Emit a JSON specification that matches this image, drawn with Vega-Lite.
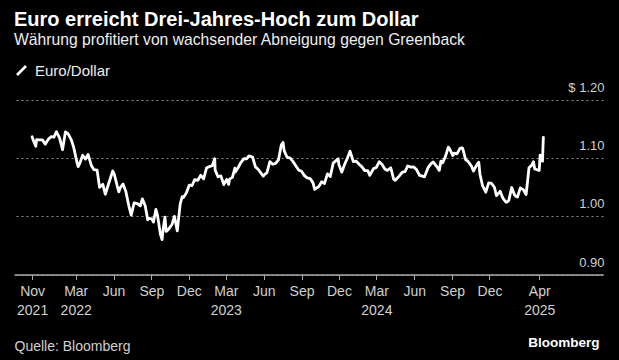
{
  "$schema": "https://vega.github.io/schema/vega-lite/v6.json",
  "width": 589,
  "height": 174.5,
  "autosize": {"type": "none"},
  "padding": {"left": 14, "top": 100, "right": 16, "bottom": 85.5},
  "background": "#000000",
  "title": {
    "text": "Euro erreicht Drei-Jahres-Hoch zum Dollar",
    "subtitle": "Währung profitiert von wachsender Abneigung gegen Greenback",
    "anchor": "start",
    "frame": "group",
    "font": "Liberation Sans",
    "fontSize": 20,
    "fontWeight": "bold",
    "color": "#ffffff",
    "subtitleFont": "Liberation Sans",
    "subtitleFontSize": 15.7,
    "subtitleColor": "#eeeeee",
    "subtitlePadding": 3,
    "offset": 15
  },
  "data": {
    "values": [
      {"date": "2021-11-15", "eurusd": 1.1368},
      {"date": "2021-11-19", "eurusd": 1.1287},
      {"date": "2021-11-24", "eurusd": 1.1205},
      {"date": "2021-11-26", "eurusd": 1.1318},
      {"date": "2021-12-03", "eurusd": 1.1315},
      {"date": "2021-12-10", "eurusd": 1.1316},
      {"date": "2021-12-15", "eurusd": 1.1260},
      {"date": "2021-12-17", "eurusd": 1.1240},
      {"date": "2021-12-24", "eurusd": 1.1320},
      {"date": "2021-12-31", "eurusd": 1.1370},
      {"date": "2022-01-07", "eurusd": 1.1360},
      {"date": "2022-01-13", "eurusd": 1.1455},
      {"date": "2022-01-21", "eurusd": 1.1345},
      {"date": "2022-01-28", "eurusd": 1.1145},
      {"date": "2022-02-04", "eurusd": 1.1450},
      {"date": "2022-02-10", "eurusd": 1.1425},
      {"date": "2022-02-18", "eurusd": 1.1320},
      {"date": "2022-02-24", "eurusd": 1.1190},
      {"date": "2022-03-04", "eurusd": 1.0930},
      {"date": "2022-03-07", "eurusd": 1.0855},
      {"date": "2022-03-11", "eurusd": 1.0910},
      {"date": "2022-03-18", "eurusd": 1.1050},
      {"date": "2022-03-25", "eurusd": 1.0985},
      {"date": "2022-03-31", "eurusd": 1.1065},
      {"date": "2022-04-08", "eurusd": 1.0875},
      {"date": "2022-04-14", "eurusd": 1.0805},
      {"date": "2022-04-22", "eurusd": 1.0795},
      {"date": "2022-04-28", "eurusd": 1.0500},
      {"date": "2022-05-06", "eurusd": 1.0550},
      {"date": "2022-05-12", "eurusd": 1.0380},
      {"date": "2022-05-20", "eurusd": 1.0560},
      {"date": "2022-05-30", "eurusd": 1.0780},
      {"date": "2022-06-03", "eurusd": 1.0720},
      {"date": "2022-06-10", "eurusd": 1.0520},
      {"date": "2022-06-14", "eurusd": 1.0420},
      {"date": "2022-06-17", "eurusd": 1.0490},
      {"date": "2022-06-24", "eurusd": 1.0555},
      {"date": "2022-07-01", "eurusd": 1.0425},
      {"date": "2022-07-08", "eurusd": 1.0185},
      {"date": "2022-07-14", "eurusd": 1.0020},
      {"date": "2022-07-21", "eurusd": 1.0230},
      {"date": "2022-07-29", "eurusd": 1.0220},
      {"date": "2022-08-05", "eurusd": 1.0180},
      {"date": "2022-08-10", "eurusd": 1.0300},
      {"date": "2022-08-17", "eurusd": 1.0180},
      {"date": "2022-08-23", "eurusd": 0.9940},
      {"date": "2022-08-26", "eurusd": 0.9965},
      {"date": "2022-09-02", "eurusd": 0.9955},
      {"date": "2022-09-06", "eurusd": 0.9900},
      {"date": "2022-09-12", "eurusd": 1.0120},
      {"date": "2022-09-16", "eurusd": 1.0015},
      {"date": "2022-09-23", "eurusd": 0.9690},
      {"date": "2022-09-27", "eurusd": 0.9600},
      {"date": "2022-09-30", "eurusd": 0.9800},
      {"date": "2022-10-04", "eurusd": 0.9985},
      {"date": "2022-10-07", "eurusd": 0.9740},
      {"date": "2022-10-13", "eurusd": 0.9780},
      {"date": "2022-10-21", "eurusd": 0.9860},
      {"date": "2022-10-27", "eurusd": 1.0000},
      {"date": "2022-11-03", "eurusd": 0.9750},
      {"date": "2022-11-10", "eurusd": 1.0210},
      {"date": "2022-11-15", "eurusd": 1.0340},
      {"date": "2022-11-18", "eurusd": 1.0325},
      {"date": "2022-11-25", "eurusd": 1.0400},
      {"date": "2022-12-02", "eurusd": 1.0535},
      {"date": "2022-12-09", "eurusd": 1.0530},
      {"date": "2022-12-15", "eurusd": 1.0630},
      {"date": "2022-12-23", "eurusd": 1.0620},
      {"date": "2022-12-30", "eurusd": 1.0705},
      {"date": "2023-01-06", "eurusd": 1.0645},
      {"date": "2023-01-13", "eurusd": 1.0830},
      {"date": "2023-01-20", "eurusd": 1.0855},
      {"date": "2023-01-27", "eurusd": 1.0870},
      {"date": "2023-02-02", "eurusd": 1.0990},
      {"date": "2023-02-03", "eurusd": 1.0795},
      {"date": "2023-02-10", "eurusd": 1.0680},
      {"date": "2023-02-17", "eurusd": 1.0695},
      {"date": "2023-02-24", "eurusd": 1.0545},
      {"date": "2023-03-03", "eurusd": 1.0635},
      {"date": "2023-03-08", "eurusd": 1.0550},
      {"date": "2023-03-10", "eurusd": 1.0640},
      {"date": "2023-03-17", "eurusd": 1.0670},
      {"date": "2023-03-23", "eurusd": 1.0830},
      {"date": "2023-03-24", "eurusd": 1.0760},
      {"date": "2023-03-31", "eurusd": 1.0840},
      {"date": "2023-04-06", "eurusd": 1.0920},
      {"date": "2023-04-14", "eurusd": 1.0990},
      {"date": "2023-04-21", "eurusd": 1.0990},
      {"date": "2023-04-26", "eurusd": 1.1040},
      {"date": "2023-05-05", "eurusd": 1.1020},
      {"date": "2023-05-12", "eurusd": 1.0850},
      {"date": "2023-05-19", "eurusd": 1.0805},
      {"date": "2023-05-31", "eurusd": 1.0690},
      {"date": "2023-06-02", "eurusd": 1.0710},
      {"date": "2023-06-09", "eurusd": 1.0750},
      {"date": "2023-06-16", "eurusd": 1.0940},
      {"date": "2023-06-23", "eurusd": 1.0895},
      {"date": "2023-06-30", "eurusd": 1.0910},
      {"date": "2023-07-07", "eurusd": 1.0970},
      {"date": "2023-07-14", "eurusd": 1.1230},
      {"date": "2023-07-18", "eurusd": 1.1270},
      {"date": "2023-07-21", "eurusd": 1.1125},
      {"date": "2023-07-28", "eurusd": 1.1015},
      {"date": "2023-08-04", "eurusd": 1.1005},
      {"date": "2023-08-11", "eurusd": 1.0945},
      {"date": "2023-08-18", "eurusd": 1.0870},
      {"date": "2023-08-25", "eurusd": 1.0795},
      {"date": "2023-09-01", "eurusd": 1.0775},
      {"date": "2023-09-08", "eurusd": 1.0700},
      {"date": "2023-09-15", "eurusd": 1.0660},
      {"date": "2023-09-22", "eurusd": 1.0650},
      {"date": "2023-09-29", "eurusd": 1.0575},
      {"date": "2023-10-03", "eurusd": 1.0465},
      {"date": "2023-10-13", "eurusd": 1.0510},
      {"date": "2023-10-20", "eurusd": 1.0595},
      {"date": "2023-10-27", "eurusd": 1.0565},
      {"date": "2023-11-03", "eurusd": 1.0730},
      {"date": "2023-11-10", "eurusd": 1.0685},
      {"date": "2023-11-17", "eurusd": 1.0915},
      {"date": "2023-11-29", "eurusd": 1.0990},
      {"date": "2023-12-01", "eurusd": 1.0885},
      {"date": "2023-12-08", "eurusd": 1.0760},
      {"date": "2023-12-15", "eurusd": 1.0895},
      {"date": "2023-12-22", "eurusd": 1.1010},
      {"date": "2023-12-28", "eurusd": 1.1120},
      {"date": "2024-01-05", "eurusd": 1.0940},
      {"date": "2024-01-12", "eurusd": 1.0950},
      {"date": "2024-01-19", "eurusd": 1.0895},
      {"date": "2024-01-26", "eurusd": 1.0850},
      {"date": "2024-02-02", "eurusd": 1.0785},
      {"date": "2024-02-09", "eurusd": 1.0785},
      {"date": "2024-02-14", "eurusd": 1.0705},
      {"date": "2024-02-23", "eurusd": 1.0820},
      {"date": "2024-03-01", "eurusd": 1.0840},
      {"date": "2024-03-08", "eurusd": 1.0940},
      {"date": "2024-03-15", "eurusd": 1.0890},
      {"date": "2024-03-22", "eurusd": 1.0810},
      {"date": "2024-03-28", "eurusd": 1.0790},
      {"date": "2024-04-05", "eurusd": 1.0835},
      {"date": "2024-04-12", "eurusd": 1.0640},
      {"date": "2024-04-16", "eurusd": 1.0620},
      {"date": "2024-04-26", "eurusd": 1.0695},
      {"date": "2024-05-03", "eurusd": 1.0760},
      {"date": "2024-05-10", "eurusd": 1.0770},
      {"date": "2024-05-16", "eurusd": 1.0865},
      {"date": "2024-05-24", "eurusd": 1.0845},
      {"date": "2024-05-31", "eurusd": 1.0850},
      {"date": "2024-06-07", "eurusd": 1.0800},
      {"date": "2024-06-14", "eurusd": 1.0705},
      {"date": "2024-06-21", "eurusd": 1.0690},
      {"date": "2024-06-26", "eurusd": 1.0680},
      {"date": "2024-07-05", "eurusd": 1.0840},
      {"date": "2024-07-12", "eurusd": 1.0905},
      {"date": "2024-07-17", "eurusd": 1.0935},
      {"date": "2024-07-26", "eurusd": 1.0855},
      {"date": "2024-08-01", "eurusd": 1.0790},
      {"date": "2024-08-05", "eurusd": 1.0950},
      {"date": "2024-08-09", "eurusd": 1.0920},
      {"date": "2024-08-16", "eurusd": 1.1030},
      {"date": "2024-08-23", "eurusd": 1.1190},
      {"date": "2024-08-26", "eurusd": 1.1160},
      {"date": "2024-09-03", "eurusd": 1.1045},
      {"date": "2024-09-06", "eurusd": 1.1085},
      {"date": "2024-09-13", "eurusd": 1.1075},
      {"date": "2024-09-20", "eurusd": 1.1165},
      {"date": "2024-09-25", "eurusd": 1.1180},
      {"date": "2024-09-27", "eurusd": 1.1165},
      {"date": "2024-10-04", "eurusd": 1.0975},
      {"date": "2024-10-11", "eurusd": 1.0935},
      {"date": "2024-10-18", "eurusd": 1.0865},
      {"date": "2024-10-23", "eurusd": 1.0780},
      {"date": "2024-10-31", "eurusd": 1.0885},
      {"date": "2024-11-05", "eurusd": 1.0930},
      {"date": "2024-11-08", "eurusd": 1.0720},
      {"date": "2024-11-14", "eurusd": 1.0530},
      {"date": "2024-11-22", "eurusd": 1.0415},
      {"date": "2024-11-29", "eurusd": 1.0575},
      {"date": "2024-12-06", "eurusd": 1.0565},
      {"date": "2024-12-13", "eurusd": 1.0500},
      {"date": "2024-12-18", "eurusd": 1.0355},
      {"date": "2024-12-27", "eurusd": 1.0430},
      {"date": "2024-12-31", "eurusd": 1.0355},
      {"date": "2025-01-03", "eurusd": 1.0310},
      {"date": "2025-01-10", "eurusd": 1.0245},
      {"date": "2025-01-13", "eurusd": 1.0245},
      {"date": "2025-01-17", "eurusd": 1.0275},
      {"date": "2025-01-24", "eurusd": 1.0495},
      {"date": "2025-01-31", "eurusd": 1.0365},
      {"date": "2025-02-03", "eurusd": 1.0345},
      {"date": "2025-02-07", "eurusd": 1.0330},
      {"date": "2025-02-14", "eurusd": 1.0490},
      {"date": "2025-02-21", "eurusd": 1.0460},
      {"date": "2025-02-28", "eurusd": 1.0375},
      {"date": "2025-03-04", "eurusd": 1.0625},
      {"date": "2025-03-07", "eurusd": 1.0835},
      {"date": "2025-03-14", "eurusd": 1.0880},
      {"date": "2025-03-18", "eurusd": 1.0940},
      {"date": "2025-03-21", "eurusd": 1.0815},
      {"date": "2025-03-27", "eurusd": 1.0800},
      {"date": "2025-04-01", "eurusd": 1.0790},
      {"date": "2025-04-03", "eurusd": 1.1050},
      {"date": "2025-04-04", "eurusd": 1.0960},
      {"date": "2025-04-08", "eurusd": 1.0955},
      {"date": "2025-04-09", "eurusd": 1.0950},
      {"date": "2025-04-10", "eurusd": 1.1190},
      {"date": "2025-04-11", "eurusd": 1.1357}
    ]
  },
  "mark": {"type": "line", "strokeWidth": 2.8, "strokeJoin": "round", "strokeCap": "round"},
  "encoding": {
    "x": {
      "field": "date",
      "type": "temporal",
      "scale": {"domain": ["2021-10-02", "2025-09-03"]},
      "axis": {
        "values": [
          {"year": 2021, "month": 11, "date": 15},
          {"year": 2022, "month": 3, "date": 1},
          {"year": 2022, "month": 6, "date": 1},
          {"year": 2022, "month": 9, "date": 1},
          {"year": 2022, "month": 12, "date": 1},
          {"year": 2023, "month": 3, "date": 1},
          {"year": 2023, "month": 6, "date": 1},
          {"year": 2023, "month": 9, "date": 1},
          {"year": 2023, "month": 12, "date": 1},
          {"year": 2024, "month": 3, "date": 1},
          {"year": 2024, "month": 6, "date": 1},
          {"year": 2024, "month": 9, "date": 1},
          {"year": 2024, "month": 12, "date": 1},
          {"year": 2025, "month": 4, "date": 1}
        ],
        "labelExpr": "(month(datum.value)==2 || month(datum.value)==10 || month(datum.value)==3) ? [timeFormat(datum.value,'%b'), timeFormat(datum.value,'%Y')] : timeFormat(datum.value,'%b')",
        "labelFont": "Liberation Sans",
        "labelFontSize": 14,
        "labelColor": "#d0d0d0",
        "labelLineHeight": 18.5,
        "labelPadding": 5,
        "labelOverlap": false,
        "labelFlush": false,
        "grid": false,
        "domainColor": "#aaaaaa",
        "domainWidth": 1.6,
        "tickColor": "#aaaaaa",
        "tickSize": 5,
        "tickWidth": 1,
        "title": "Quelle: Bloomberg",
        "titleFont": "Liberation Sans",
        "titleFontSize": 14,
        "titleFontWeight": "normal",
        "titleColor": "#d0d0d0",
        "titleAnchor": "start",
        "titleAlign": "left",
        "titleBaseline": "alphabetic",
        "titleX": 0,
        "titleY": 75.5
      }
    },
    "y": {
      "field": "eurusd",
      "type": "quantitative",
      "scale": {"domain": [0.9, 1.2], "zero": false, "nice": false},
      "axis": {
        "orient": "right",
        "values": [0.9, 1.0, 1.1, 1.2],
        "labelExpr": "datum.value > 1.15 ? '$ 1.20' : format(datum.value, '.2f')",
        "labelFont": "Liberation Sans",
        "labelFontSize": 13,
        "labelColor": "#d0d0d0",
        "labelAlign": "right",
        "labelBaseline": "alphabetic",
        "labelOffset": -8.5,
        "labelPadding": 1,
        "ticks": false,
        "tickSize": 0,
        "domain": false,
        "grid": true,
        "gridColor": "#8a8a8a",
        "gridDash": [2, 3],
        "gridWidth": 1,
        "title": "Bloomberg",
        "titleFont": "Liberation Sans",
        "titleFontSize": 13.5,
        "titleFontWeight": "bold",
        "titleColor": "#ffffff",
        "titleAngle": 0,
        "titleAlign": "right",
        "titleBaseline": "alphabetic",
        "titleX": -4,
        "titleY": 246.7
      }
    },
    "color": {
      "datum": "Euro/Dollar",
      "type": "nominal",
      "scale": {"range": ["#ffffff"]},
      "legend": {
        "title": null,
        "orient": "top",
        "direction": "horizontal",
        "offset": 19,
        "padding": 0,
        "symbolType": "M-0.9,0.9L0.9,-0.9",
        "symbolSize": 100,
        "symbolStrokeWidth": 2.6,
        "symbolStrokeColor": "#ffffff",
        "symbolFillColor": "transparent",
        "labelFont": "Liberation Sans",
        "labelFontSize": 15,
        "labelColor": "#eeeeee",
        "labelOffset": 6
      }
    }
  },
  "config": {
    "view": {"stroke": null}
  }
}
